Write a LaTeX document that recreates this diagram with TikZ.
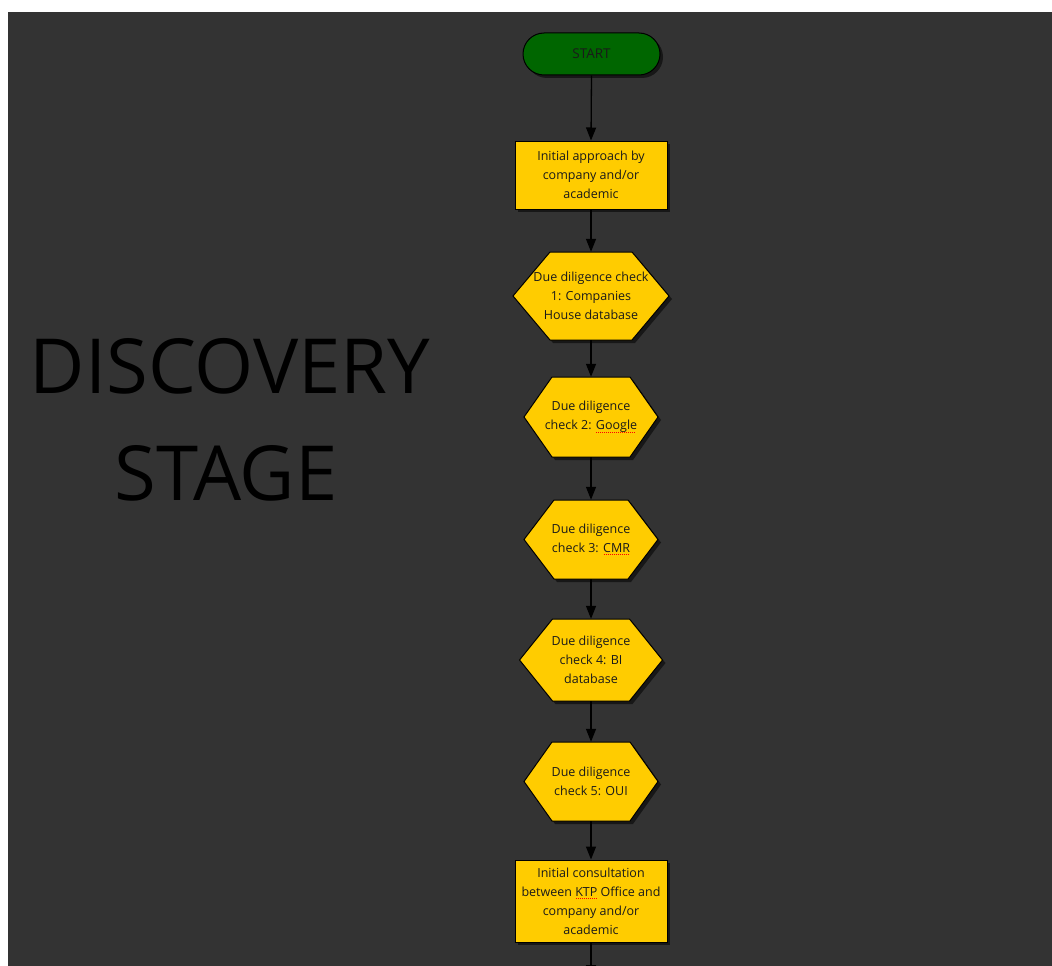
\documentclass[tikz,border=0pt]{standalone}
\usepackage{fontspec}
\setmainfont{Open Sans}
\usetikzlibrary{arrows.meta,shadows}

\definecolor{canvasgrey}{HTML}{333333}
\definecolor{stepyellow}{HTML}{FFCC00}
\definecolor{startgreen}{HTML}{006600}
\definecolor{inktext}{HTML}{1A1A1A}

% red dotted spell-check underline under a word
\newsavebox\spbox
\newcommand\spell[1]{\sbox\spbox{#1}%
  \rlap{\raisebox{-2.8pt}{\textcolor{red}{\leaders\hbox to 2pt{\hss\rule{1pt}{0.8pt}\hss}\hskip\wd\spbox}}}%
  \usebox\spbox}

\tikzset{
  steptext/.style={inner sep=0pt, align=center, text=inktext,
    font=\fontsize{12.5}{19}\selectfont},
  procbox/.style={steptext, draw=black, line width=1pt, fill=stepyellow,
    general shadow={shadow xshift=3pt, shadow yshift=-3pt, fill=black, opacity=.55}},
  startbox/.style={steptext, draw=black, line width=1pt, fill=startgreen,
    font=\fontsize{13.5}{19}\selectfont,
    rounded corners=21pt, minimum width=137pt, minimum height=42pt,
    general shadow={shadow xshift=3pt, shadow yshift=-3pt, fill=black, opacity=.55}},
  hexface/.style={draw=black, line width=1pt, fill=stepyellow, line join=miter},
  hexshadow/.style={fill=black, opacity=.55},
  flow/.style={draw=black, line width=1.3pt, -{Triangle[length=13pt,width=10pt]}},
  stagetext/.style={inner sep=0pt, text=black, font=\fontsize{76}{90}\selectfont}
}

% hexagonal check step: name, cx, cy, width, height, inset, text
\newcommand\hexstep[7]{%
  \path[hexshadow, shift={(3,3)}]
    ({#2-#4/2+#6},{#3-#5/2}) -- ({#2+#4/2-#6},{#3-#5/2}) -- ({#2+#4/2},{#3})
    -- ({#2+#4/2-#6},{#3+#5/2}) -- ({#2-#4/2+#6},{#3+#5/2}) -- ({#2-#4/2},{#3}) -- cycle;
  \path[hexface]
    ({#2-#4/2+#6},{#3-#5/2}) -- ({#2+#4/2-#6},{#3-#5/2}) -- ({#2+#4/2},{#3})
    -- ({#2+#4/2-#6},{#3+#5/2}) -- ({#2-#4/2+#6},{#3+#5/2}) -- ({#2-#4/2},{#3}) -- cycle;
  \node[steptext, minimum width=#4pt, minimum height=#5pt] (#1) at (#2,#3) {#7};}

\begin{document}
\begin{tikzpicture}[x=1pt, y=-1pt]
  \useasboundingbox (0,0) rectangle (1052,966);
  \clip (0,0) rectangle (1052,966);
  \fill[white] (0,0) rectangle (1052,966);
  \fill[canvasgrey] (8,12) rectangle (1052,966);

  % stage title
  \node[stagetext, anchor=base] (stage1) at (230,393) {DISCOVERY};
  \node[stagetext, anchor=base] (stage2) at (226,500) {STAGE};

  % flow steps
  \node[startbox] (start) at (591.5,54) {START};
  \node[procbox, minimum width=152pt, minimum height=68pt] (approach) at (591,175)
    {Initial approach by\\company and/or\\academic};
  \hexstep{check1}{591}{296}{156}{88}{37}{Due diligence check\\1: Companies\\House database}
  \hexstep{check2}{591}{417}{134}{80}{28}{Due diligence\\check 2: \spell{Google}}
  \hexstep{check3}{591}{539.5}{134}{79}{30}{Due diligence\\check 3: \spell{CMR}}
  \hexstep{check4}{591}{660}{143}{82}{33}{Due diligence\\check 4: BI\\database}
  \hexstep{check5}{591}{781.5}{134}{79}{28}{Due diligence\\check 5: OUI}
  \node[procbox, minimum width=152pt, minimum height=82pt] (consult) at (591,901)
    {Initial consultation\\between \spell{KTP} Office and\\company and/or\\academic};
  \coordinate (next) at (591,978);

  % connectors
  \draw[flow] (start.south) -- (approach.north);
  \draw[flow] (approach.south) -- (check1.north);
  \draw[flow] (check1.south) -- (check2.north);
  \draw[flow] (check2.south) -- (check3.north);
  \draw[flow] (check3.south) -- (check4.north);
  \draw[flow] (check4.south) -- (check5.north);
  \draw[flow] (check5.south) -- (consult.north);
  \draw[flow] (consult.south) -- (next);
\end{tikzpicture}
\end{document}
